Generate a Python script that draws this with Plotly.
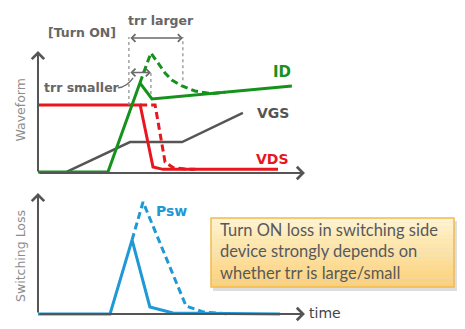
import plotly.graph_objects as go

# ---------------- data (arbitrary time / amplitude units) ----------------
# Upper panel: turn-on waveforms
t_id_small = [0, 26.7, 38.9, 43.5, 96.9]
id_small = [0.8, 0.8, 73.8, 60.7, 71.3]
t_id_large = [38.9, 43.1, 45.8, 48.5, 51.1, 55.0, 59.9, 66.4, 71.4]
id_large = [73.8, 98.4, 90.2, 82.0, 76.2, 71.3, 67.2, 65.0, 66.2]

t_vds_small = [0, 39.0, 43.9, 47.7, 91.6]
vds_small = [55.7, 55.7, 4.9, 3.0, 3.0]
t_vds_large = [39.0, 44.7, 48.5, 51.5, 56.0, 60.0]
vds_large = [55.7, 55.7, 9.0, 4.5, 3.2, 3.0]

t_vgs = [11.1, 35.1, 55.0, 78.2]
vgs = [1.2, 25.4, 25.4, 49.2]

# Lower panel: switching loss
t_psw_small = [0, 27.5, 35.9, 42.7, 51.5, 92.4]
psw_small = [0, 0, 61.2, 5.8, 0.8, 0]
t_psw_large = [35.9, 40.1, 56.5, 63.0, 73.3]
psw_large = [61.2, 92.6, 6.6, 1.7, 0]

# trr markers (start, end for small trr, end for large trr)
trr_start, trr_small_end, trr_large_end = 34.7, 43.1, 55.3

box_lines = ["Turn ON loss in switching side",
             "device strongly depends on",
             "whether trr is large/small"]

# ---------------- styling ----------------
GREEN = "#15921c"
RED = "#e8161e"
GRAY = "#555555"
BLUE = "#1f98d6"
AXIS = "#555555"
TXT = "#666666"
BOLD_FONT = "DejaVu Sans"

W, H = 465, 329
X_RANGE = [-14.50, 162.98]
Y1_RANGE = [-5.74, 141.8]
Y2_RANGE = [-12.40, 110.74]

fig = go.Figure()

def line(x, y, color, width, dash="solid", xa="x", ya="y"):
    fig.add_trace(go.Scatter(x=x, y=y, mode="lines", xaxis=xa, yaxis=ya,
                             line=dict(color=color, width=width, dash=dash),
                             hoverinfo="skip", showlegend=False))

DASH = "7px,4px"
line(t_vgs, vgs, GRAY, 2.5)
line(t_vds_large, vds_large, RED, 3, DASH)
line(t_vds_small, vds_small, RED, 3)
line(t_id_large, id_large, GREEN, 3, DASH)
line(t_id_small, id_small, GREEN, 3)
line(t_psw_large, psw_large, BLUE, 3, DASH, "x2", "y2")
line(t_psw_small, psw_small, BLUE, 3, "solid", "x2", "y2")

annotations = []
shapes = []

# axes drawn as arrows
def axis_arrow(x0, y0, x1, y1, xr, yr):
    annotations.append(dict(x=x1, y=y1, ax=x0, ay=y0, xref=xr, yref=yr,
                            axref=xr, ayref=yr, text="", showarrow=True,
                            arrowhead=4, arrowsize=1.2, arrowwidth=2,
                            arrowcolor=AXIS))

axis_arrow(0, 0, 101.9, 0, "x", "y")
axis_arrow(0, 0, 0, 100, "x", "y")
axis_arrow(0, 0, 101.9, 0, "x2", "y2")
axis_arrow(0, 0, 0, 100, "x2", "y2")

# trr guide lines
for tx, y0, y1 in [(trr_start, 55.7, 111.5), (trr_small_end, 64.8, 82.8),
                   (trr_large_end, 76.0, 111.5)]:
    shapes.append(dict(type="line", xref="x", yref="y", x0=tx, x1=tx, y0=y0, y1=y1,
                       line=dict(color="#8a8a8a", width=1.2, dash="dot")))

def double_arrow(x0, x1, y):
    annotations.append(dict(x=x1, y=y, ax=x0, ay=y, xref="x", yref="y",
                            axref="x", ayref="y", text="", showarrow=True,
                            arrowside="end+start", arrowhead=4, startarrowhead=4,
                            arrowsize=1, startarrowsize=1, arrowwidth=1.5,
                            arrowcolor="#6a6a6a"))

double_arrow(trr_start, trr_large_end, 110.7)
double_arrow(trr_start, trr_small_end, 82.4)

# leader from "trr smaller" to its arrow
shapes.append(dict(type="path", xref="x", yref="y",
                   path="M 30.5,69.7 Q 34.0,70.5 36.3,77.9",
                   line=dict(color="#6a6a6a", width=1.3)))

def label(text, x, y, color, size, xref="x", yref="y", xanchor="left"):
    annotations.append(dict(x=x, y=y, xref=xref, yref=yref, text=f"<b>{text}</b>",
                            showarrow=False, xanchor=xanchor, yanchor="middle",
                            font=dict(family=BOLD_FONT, size=size, color=color)))

label("trr larger", 46.8, 125.4, TXT, 12.5, xanchor="center")
label("[Turn ON]", 16.8, 114.8, TXT, 12.5, xanchor="center")
label("trr smaller", 16.8, 69.7, TXT, 12.5, xanchor="center")
label("ID", 88.9, 82.8, GREEN, 15)
label("VGS", 82.8, 49.2, GRAY, 14)
label("VDS", 82.4, 11.5, RED, 14)
label("Psw", 44.3, 85.1, BLUE, 14, "x2", "y2")

annotations.append(dict(x=102.5, y=0.6, xref="x2", yref="y2", text="time",
                        showarrow=False, xanchor="left", yanchor="middle",
                        font=dict(family="DejaVu Sans", size=14, color="#444444")))

# axis titles
for text, py in [("Waveform", 110.5), ("Switching Loss", 256)]:
    annotations.append(dict(x=20 / W, y=1 - py / H, xref="paper", yref="paper",
                            text=text, textangle=-90, showarrow=False,
                            xanchor="center", yanchor="middle",
                            font=dict(family="DejaVu Sans", size=12.5, color="#8c8c8c")))

# callout box with soft shadow and vertical gradient
bx0, bx1, by0, by1 = 211, 454, 218, 287
shapes.append(dict(type="rect", xref="paper", yref="paper",
                   x0=(bx0 + 2) / W, x1=(bx1 + 3) / W,
                   y0=1 - (by1 + 4) / H, y1=1 - (by0 + 3) / H,
                   fillcolor="rgba(0,0,0,0.13)", line=dict(width=0), layer="below"))
top_c, bot_c = (255, 244, 208), (251, 208, 120)
n = 16
for i in range(n):
    f = (i + 0.5) / n
    c = tuple(round(top_c[k] + (bot_c[k] - top_c[k]) * f) for k in range(3))
    ya = by0 + (by1 - by0) * i / n
    yb = by0 + (by1 - by0) * (i + 1) / n
    shapes.append(dict(type="rect", xref="paper", yref="paper",
                       x0=bx0 / W, x1=bx1 / W, y0=1 - yb / H, y1=1 - ya / H,
                       fillcolor="rgb(%d,%d,%d)" % c, line=dict(width=0), layer="below"))
shapes.append(dict(type="rect", xref="paper", yref="paper",
                   x0=bx0 / W, x1=bx1 / W, y0=1 - by1 / H, y1=1 - by0 / H,
                   fillcolor="rgba(0,0,0,0)", line=dict(color="#f1bb4f", width=1.5),
                   layer="below"))
annotations.append(dict(x=218 / W, y=1 - 251.5 / H, xref="paper", yref="paper",
                        text="<br>".join(box_lines), showarrow=False, align="left",
                        xanchor="left", yanchor="middle",
                        font=dict(family="Lato", size=16.5, color="#595959")))

hidden = dict(visible=False, fixedrange=True)
fig.update_layout(
    width=W, height=H, autosize=False,
    margin=dict(l=0, r=0, t=0, b=0),
    paper_bgcolor="white", plot_bgcolor="rgba(0,0,0,0)",
    xaxis=dict(domain=[0, 1], range=X_RANGE, anchor="y", **hidden),
    yaxis=dict(domain=[1 - 180 / H, 1], range=Y1_RANGE, anchor="x", **hidden),
    xaxis2=dict(domain=[0, 1], range=X_RANGE, anchor="y2", **hidden),
    yaxis2=dict(domain=[0, 1 - 180 / H], range=Y2_RANGE, anchor="x2", **hidden),
    annotations=annotations, shapes=shapes, showlegend=False,
)

fig.write_html("out.html")
